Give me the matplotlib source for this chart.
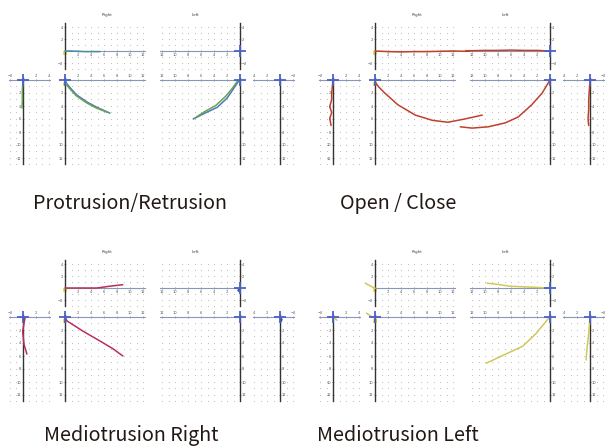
import matplotlib
matplotlib.use("Agg")
import matplotlib.pyplot as plt
import numpy as np

W, H = 606, 448

captions = ["Protrusion/Retrusion", "Open / Close", "Mediotrusion Right", "Mediotrusion Left"]

# ---- Protrusion/Retrusion (mm) ----
pr_rs_x1 = [0, 0.3, 0.8, 1.8, 3.4, 4.9, 6.9]
pr_rs_y1 = [0, 0.6, 1.2, 2.3, 3.4, 4.2, 5.1]
pr_rs_x2 = [0, 0.2, 0.7, 1.7, 3.3, 4.8, 6.6]
pr_rs_y2 = [0.1, 0.7, 1.3, 2.4, 3.5, 4.3, 5.0]
pr_ls_x1 = [0, 0.3, 1.1, 2.0, 3.5, 5.4, 7.2]
pr_ls_y1 = [0, 0.3, 1.5, 2.8, 4.2, 5.1, 6.0]
pr_ls_x2 = [0, 0.4, 1.2, 2.2, 3.7, 5.5, 7.0]
pr_ls_y2 = [0, 0.2, 1.3, 2.5, 3.9, 4.9, 5.9]
pr_rt_x = [0, 1, 2, 3, 4, 5.4]
pr_rt_y = [0, 0, -0.05, -0.1, -0.1, -0.1]
pr_rf_x = [0, -0.1, -0.1, -0.15]
pr_rf_y = [0, 1.5, 3.0, 4.3]

# ---- Open / Close ----
oc_rs_x = [0, 0.6, 1.5, 3.5, 6.2, 8.8, 11.2, 13.8, 16.5]
oc_rs_y = [0.3, 1.1, 2.0, 3.8, 5.4, 6.2, 6.5, 6.0, 5.4]
oc_ls_x = [0, 0.3, 1.2, 2.8, 4.9, 6.9, 9.5, 12.0, 13.8]
oc_ls_y = [0, 0.5, 2.0, 3.8, 5.7, 6.6, 7.2, 7.4, 7.2]
oc_rt_x = [0, 2, 4, 6, 8, 10, 12, 14, 16]
oc_rt_y = [0, -0.1, -0.15, -0.1, -0.1, -0.05, 0, -0.05, 0]
oc_lt_x = [0, 2, 4, 6, 8, 10, 12, 13]
oc_lt_y = [0, 0.1, 0.1, 0.15, 0.1, 0.1, 0.05, 0.05]
oc_rf_x = [0, -0.1, -0.2, -0.2, -0.5, -0.2, -0.5, -0.3]
oc_rf_y = [0, 1.0, 2.0, 3.0, 4.1, 5.0, 5.9, 7.0]
oc_lf_x = [0, 0.1, 0.2, 0.2, 0.3, 0.2]
oc_lf_y = [0, 1.5, 3.0, 4.5, 6.0, 7.0]

# ---- Mediotrusion Right ----
mr_rs_x = [0, 0.3, 2.8, 5.4, 7.4, 8.9]
mr_rs_y = [0, 0.6, 2.2, 3.7, 4.9, 6.0]
mr_rt_x = [0, 2, 4.9, 6.9, 8.9]
mr_rt_y = [0, 0, 0, 0.3, 0.55]
mr_rf_x = [0, 0.3, -0.05, 0.15, 0.6]
mr_rf_y = [0, 0.15, 2.2, 4.2, 5.7]
mr_lt_x = [0, 0.3, 0.1]
mr_lt_y = [0, -0.4, -0.6]
mr_lf_x = [0, -0.3, -0.1]
mr_lf_y = [0, 0.4, 0.8]

# ---- Mediotrusion Left ----
ml_ls_x = [0, 0.3, 2.2, 4.2, 6.8, 9.8]
ml_ls_y = [0, 0.3, 2.6, 4.5, 5.7, 7.1]
ml_lt_x = [0, 3.1, 6.2, 8.0, 9.7]
ml_lt_y = [0, 0.15, 0.3, 0.6, 0.8]
ml_rt_x = [0, -0.3, -0.8, -1.5]
ml_rt_y = [0, 0.1, 0.4, 0.8]
ml_rs_x = [0, -0.4, -0.9, -1.3]
ml_rs_y = [0.1, 0, -0.3, -0.6]
ml_lf_x = [0, 0.1, 0.2, 0.35, 0.5, 0.6]
ml_lf_y = [0, 1.3, 2.6, 3.9, 5.2, 6.6]
ml_rf_x = [0, 0.3, 0.6]
ml_rf_y = [0, 0.2, 0.5]

BLUE, GREEN, TEAL = "#4a78b8", "#6aa055", "#4a8aa0"
RED = "#c0402a"
MAG, NAVY = "#b8305a", "#3a4aa0"
YEL = "#cfc85a"

panels = [
    {"rs": [(pr_rs_x1, pr_rs_y1, BLUE), (pr_rs_x2, pr_rs_y2, GREEN)],
     "ls": [(pr_ls_x1, pr_ls_y1, BLUE), (pr_ls_x2, pr_ls_y2, GREEN)],
     "rt": [(pr_rt_x, pr_rt_y, TEAL)], "lt": [],
     "rf": [(pr_rf_x, pr_rf_y, GREEN)], "lf": []},
    {"rs": [(oc_rs_x, oc_rs_y, RED)], "ls": [(oc_ls_x, oc_ls_y, RED)],
     "rt": [(oc_rt_x, oc_rt_y, RED)], "lt": [(oc_lt_x, oc_lt_y, RED)],
     "rf": [(oc_rf_x, oc_rf_y, RED)], "lf": [(oc_lf_x, oc_lf_y, RED)]},
    {"rs": [(mr_rs_x, mr_rs_y, MAG)], "ls": [],
     "rt": [(mr_rt_x, mr_rt_y, MAG)], "lt": [(mr_lt_x, mr_lt_y, NAVY)],
     "rf": [(mr_rf_x, mr_rf_y, MAG)], "lf": [(mr_lf_x, mr_lf_y, NAVY)]},
    {"rs": [(ml_rs_x, ml_rs_y, YEL)], "ls": [(ml_ls_x, ml_ls_y, YEL)],
     "rt": [(ml_rt_x, ml_rt_y, YEL)], "lt": [(ml_lt_x, ml_lt_y, YEL)],
     "rf": [(ml_rf_x, ml_rf_y, YEL)], "lf": [(ml_lf_x, ml_lf_y, YEL)]},
]
offsets = [(0, 0), (310, 0), (0, 237), (310, 237)]
caption_xy = [(130, 203), (398, 203), (131, 435), (398, 435)]

# view: origin px (x0, y0), xlim, ylim, px per mm (sx, sy), side of the y axis, top view?
views = {
    "rt": ((65, 51), (0, 12.3), (-3, 4.6), (6.5, 6.0), "left", True),
    "lt": ((240, 51), (12.3, 0), (-3, 4.6), (6.5, 6.0), "right", True),
    "rs": ((65, 80), (0, 12.3), (13, -0.3), (6.5, 6.5), "left", False),
    "ls": ((240, 80), (12.3, 0), (13, -0.3), (6.5, 6.5), "right", False),
    "rf": ((23, 80), (-2.2, 4.2), (13, -0.3), (6.5, 6.5), "left", False),
    "lf": ((280, 80), (4.2, -2.2), (13, -0.3), (6.5, 6.5), "right", False),
}

fig = plt.figure(figsize=(W / 100, H / 100), dpi=100)


def add_view(ox, oy, key, traces):
    (x0, y0), xlim, ylim, (sx, sy), side, top = views[key]
    xinv = xlim[0] > xlim[1]
    yinv = ylim[0] > ylim[1]
    px = lambda v: x0 - v * sx if xinv else x0 + v * sx
    py = lambda v: y0 + v * sy if yinv else y0 - v * sy
    left, right = px(xlim[0]), px(xlim[1])
    bottom, topp = py(ylim[0]), py(ylim[1])
    ax = fig.add_axes([(ox + left) / W, 1 - (oy + bottom) / H,
                       (right - left) / W, (bottom - topp) / H])
    ax.set_xlim(xlim)
    ax.set_ylim(ylim)
    ax.patch.set_alpha(0)
    for s in ax.spines.values():
        s.set_visible(False)

    # dotted grid
    gx = np.arange(np.ceil(min(xlim)), np.floor(max(xlim)) + 1)
    gy = np.arange(np.ceil(min(ylim)), np.floor(max(ylim)) + 1)
    GX, GY = np.meshgrid(gx, gy)
    ax.scatter(GX.ravel(), GY.ravel(), s=0.6, color="#b8b8b8", lw=0, zorder=0)

    # axes through the origin
    hs = "bottom" if top else "top"
    ax.spines[hs].set_visible(True)
    ax.spines[hs].set_position(("data", 0))
    ax.spines[hs].set_color("#8896b8")
    ax.spines[hs].set_linewidth(0.8)
    ax.spines[side].set_visible(True)
    ax.spines[side].set_position(("data", 0))
    ax.spines[side].set_color("#333333")
    ax.spines[side].set_linewidth(1.0)

    if key in ("rf", "lf"):
        ax.set_xticks([-2, 2, 4])
    else:
        ax.set_xticks([2, 4, 6, 8, 10, 12])
    if top:
        ax.set_yticks([-2, 2, 4])
        ax.xaxis.set_ticks_position("bottom")
    else:
        ax.set_yticks([2, 4, 6, 8, 10, 12])
        ax.xaxis.set_ticks_position("top")
    if side == "right":
        ax.yaxis.set_ticks_position("right")
    else:
        ax.yaxis.set_ticks_position("left")
    ax.tick_params(labelsize=2.6, length=1.2, width=0.4, pad=0.6,
                   colors="#555555", direction="inout")

    for x, y, c in traces:
        ax.plot(x, y, color=c, lw=1.1, clip_on=False, zorder=3,
                solid_capstyle="round", solid_joinstyle="round")

    if key == "rt":
        ax.plot(0, -0.3, marker="s", ms=2.2, color="#f2dc50", mew=0, clip_on=False, zorder=2)
    else:
        if key == "rs":
            ax.plot(0, 0.6, marker="s", ms=2.2, color="#f2dc50", mew=0, clip_on=False, zorder=2)
        ax.plot(0, 0, marker="+", ms=9, mew=1.3, color="#4a62c8", clip_on=False, zorder=4)
    return ax


for (ox, oy), traces, cap, (cx, cy) in zip(offsets, panels, captions, caption_xy):
    for key in views:
        add_view(ox, oy, key, traces[key])
    fig.text((ox + 107) / W, 1 - (oy + 15) / H, "Right", fontsize=3,
             color="#444444", ha="center", va="center")
    fig.text((ox + 195) / W, 1 - (oy + 15) / H, "Left", fontsize=3,
             color="#444444", ha="center", va="center")
    fig.text(cx / W, 1 - cy / H, cap, fontsize=14.2,
             family=["Noto Sans CJK JP", "DejaVu Sans"], color="#231815",
             ha="center", va="center")

fig.savefig("out.png", dpi=100)
